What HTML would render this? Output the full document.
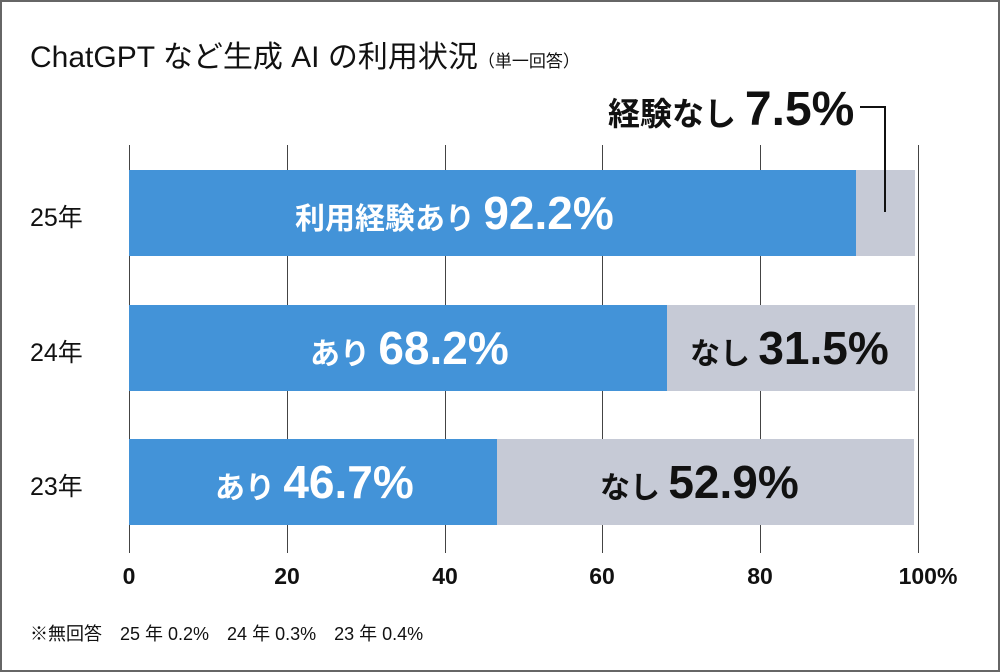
<!DOCTYPE html>
<html><head><meta charset="utf-8"><style>
body{margin:0;width:1000px;height:672px;background:#fff;position:relative;overflow:hidden;font-family:"Liberation Sans","Noto Sans CJK JP",sans-serif}
.a{position:absolute;white-space:nowrap}
.g{position:absolute;top:145px;width:1px;height:408px;background:#444}
.b{position:absolute;height:86px;background:#4393d8}
.n{position:absolute;height:86px;background:#c6cad6}
.lab{position:absolute;line-height:86px;font-size:30px;font-weight:bold;color:#fff}
.big{font-size:46px;font-family:"Liberation Sans Narrow","Liberation Sans",sans-serif;font-weight:bold}
.y{position:absolute;left:30px;font-size:25px;color:#111}
.x{position:absolute;top:563px;font-size:23px;font-weight:bold;color:#111;transform:translateX(-50%)}
</style></head><body>
<div class="a" style="left:0;top:0;width:996px;height:668px;border:2px solid #666"></div>
<div class="a" style="left:30px;top:32px;font-size:30px;color:#111">ChatGPT など生成 AI の利用状況<span style="font-size:17px">（単一回答）</span></div>
<div class="g" style="left:129px"></div><div class="g" style="left:287px"></div><div class="g" style="left:445px"></div><div class="g" style="left:602px"></div><div class="g" style="left:760px"></div><div class="g" style="left:918px"></div>
<div class="b" style="left:129px;top:170px;width:727px"></div><div class="n" style="left:856px;top:170px;width:59px"></div>
<div class="b" style="left:129px;top:305px;width:538px"></div><div class="n" style="left:667px;top:305px;width:248px"></div>
<div class="b" style="left:129px;top:439px;width:368px"></div><div class="n" style="left:497px;top:439px;width:417px"></div>
<div class="lab" style="left:295px;top:170px">利用経験あり <span class="big">92.2%</span></div>
<div class="lab" style="left:310px;top:305px">あり <span class="big">68.2%</span></div>
<div class="lab" style="left:215px;top:439px">あり <span class="big">46.7%</span></div>
<div class="lab" style="left:690px;top:305px;color:#111">なし <span class="big">31.5%</span></div>
<div class="lab" style="left:600px;top:439px;color:#111">なし <span class="big">52.9%</span></div>
<div class="a" style="left:608px;top:82px;font-size:32px;font-weight:bold;color:#111">経験なし <span class="big" style="font-size:48px">7.5%</span></div>
<div class="a" style="left:860px;top:106px;width:26px;height:2px;background:#111"></div>
<div class="a" style="left:884px;top:106px;width:2px;height:106px;background:#111"></div>
<div class="y" style="top:198px">25年</div><div class="y" style="top:333px">24年</div><div class="y" style="top:467px">23年</div>
<div class="x" style="left:129px">0</div><div class="x" style="left:287px">20</div><div class="x" style="left:445px">40</div><div class="x" style="left:602px">60</div><div class="x" style="left:760px">80</div><div class="x" style="left:928px">100%</div>
<div class="a" style="left:30px;top:620px;font-size:18px;color:#111">※無回答　25 年 0.2%　24 年 0.3%　23 年 0.4%</div>
</body></html>
